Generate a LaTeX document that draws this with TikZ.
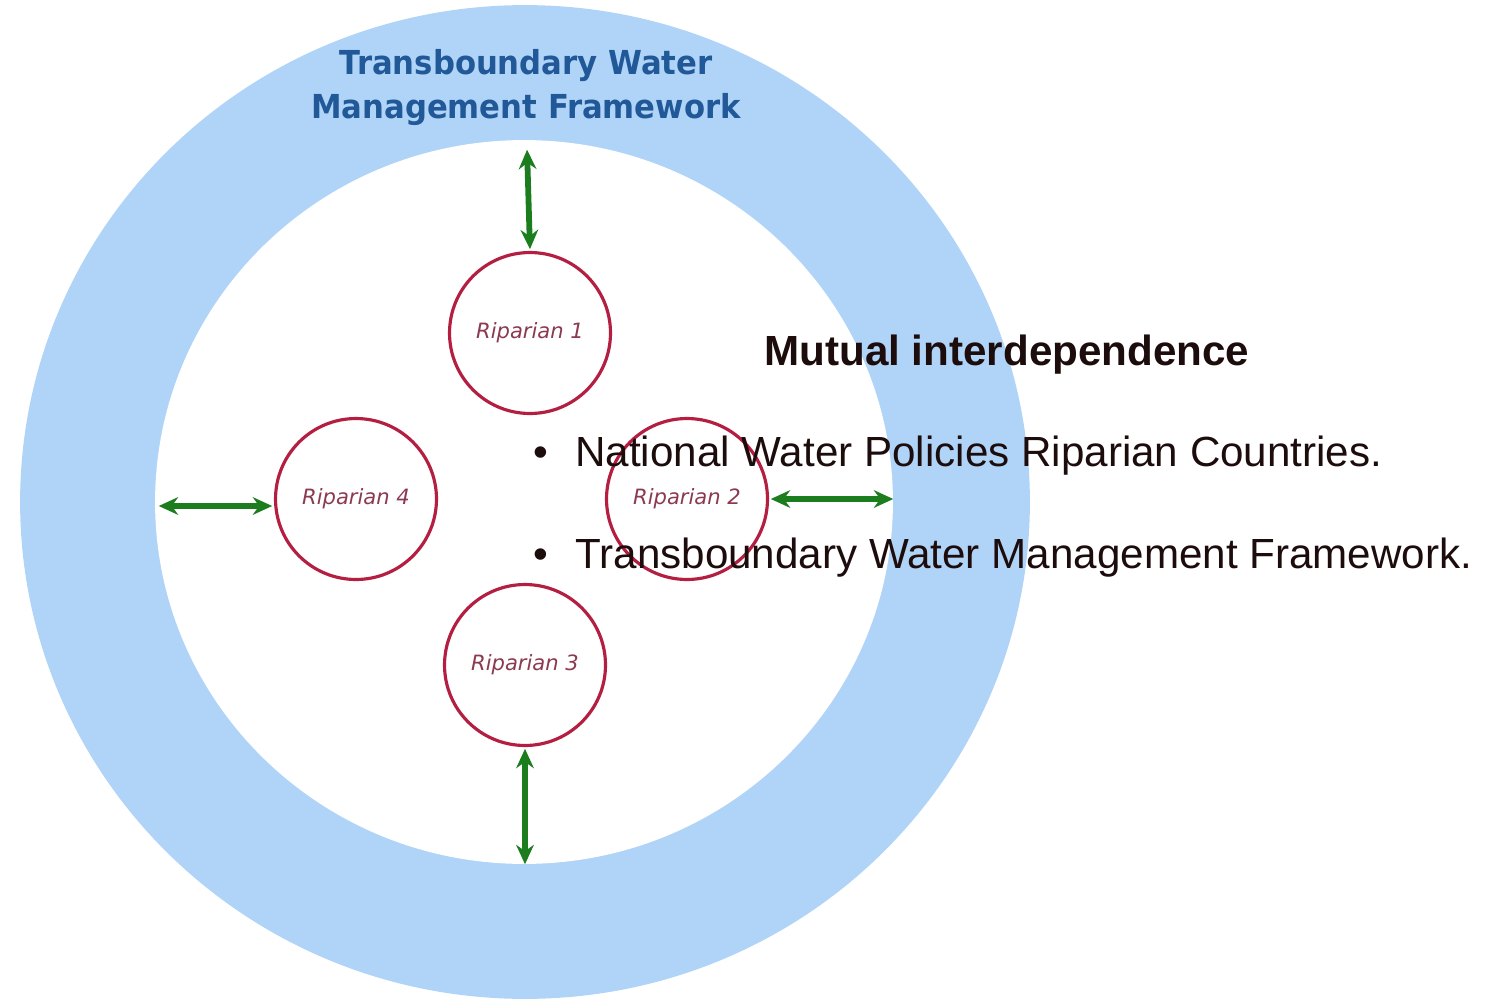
\documentclass[tikz,border=0pt]{standalone}
\usepackage{fontspec}
\setmainfont{Liberation Sans}
\newfontfamily\verd{DejaVu Sans}
\usetikzlibrary{arrows.meta}
\definecolor{ringblue}{RGB}{176,212,248}
\definecolor{titleblue}{RGB}{33,88,152}
\definecolor{ripred}{RGB}{180,30,65}
\definecolor{riptext}{RGB}{140,58,80}
\definecolor{arrgreen}{RGB}{28,125,30}
\definecolor{txtdark}{RGB}{28,12,12}
\tikzset{
  riparian/.style={circle, draw=ripred, line width=1.8pt, fill=white, minimum size=3.22cm, inner sep=0pt,
    font=\verd\itshape\fontsize{12}{14}\selectfont, text=riptext},
  link/.style={draw=arrgreen, line width=3.3pt, {Stealth[length=11pt,width=10pt]}-{Stealth[length=11pt,width=10pt]}, shorten <=1pt, shorten >=1pt},
  bigtxt/.style={inner sep=0pt, anchor=base west, text=txtdark, font=\fontsize{24}{29}\selectfont},
}
\begin{document}
\begin{tikzpicture}[x=0.02cm, y=-0.02cm]
\useasboundingbox (0,0) rectangle (1501,1001);
\fill[ringblue] (525,502) ellipse [x radius=10.1cm, y radius=9.94cm];
\fill[white] (524,502) ellipse [x radius=7.38cm, y radius=7.24cm];
\node[inner sep=0pt, align=center, text=titleblue, font=\verd\bfseries\fontsize{18.8}{24.5}\selectfont, anchor=base, xscale=0.93] (title) at (526,118) {Transboundary Water\\Management Framework};
\node[riparian] (r1) at (530,333) {Riparian 1};
\node[riparian] (r2) at (687,499) {Riparian 2};
\node[riparian] (r3) at (525,665) {Riparian 3};
\node[riparian] (r4) at (356,499) {Riparian 4};
\coordinate (c1) at (527,148);
\coordinate (c2) at (895,499);
\coordinate (c3) at (525,866);
\coordinate (c4) at (157,506);
\draw[link] (c1) -- (r1.north);
\draw[link] (r2.east) -- (c2);
\draw[link] (r3.south) -- (c3);
\draw[link] (c4) -- (r4.west |- c4);
\node[bigtxt, font=\bfseries\fontsize{24}{29}\selectfont] (head) at (764,365) {Mutual interdependence};
\node[bigtxt] (bul1) at (533,466) {•};
\node[bigtxt] (item1) at (575,466) {National Water Policies Riparian Countries.};
\node[bigtxt] (bul2) at (533,568) {•};
\node[bigtxt] (item2) at (575,568) {Transboundary Water Management Framework.};
\end{tikzpicture}
\end{document}
